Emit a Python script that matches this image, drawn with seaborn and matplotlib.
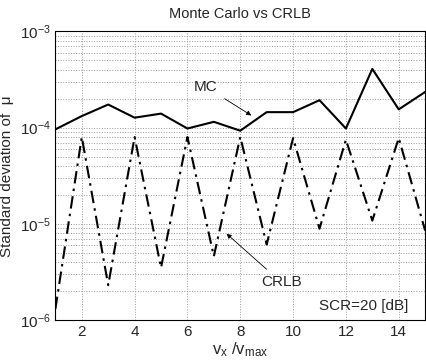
import numpy as np
import pandas as pd
import matplotlib
matplotlib.use("Agg")
import matplotlib.pyplot as plt
import seaborn as sns
from matplotlib.ticker import LogLocator, FixedLocator

sns.set_style("white")
plt.rcParams['font.family'] = ['Liberation Sans', 'DejaVu Sans']
plt.rcParams['mathtext.fontset'] = 'custom'
plt.rcParams['mathtext.rm'] = 'Liberation Sans'
plt.rcParams['mathtext.it'] = 'Liberation Sans'

x_vals = [1, 2, 3, 4, 5, 6, 7, 8, 9, 10, 11, 12, 13, 14, 15]
mc_vals = [9.6e-5, 1.32e-4, 1.74e-4, 1.27e-4, 1.40e-4, 9.8e-5, 1.15e-4, 9.3e-5,
           1.45e-4, 1.45e-4, 1.93e-4, 9.8e-5, 4.08e-4, 1.55e-4, 2.35e-4]
crlb_vals = [1.3e-6, 8.0e-5, 2.3e-6, 8.0e-5, 3.5e-6, 8.0e-5, 4.6e-6, 8.0e-5,
             6.1e-6, 7.8e-5, 8.9e-6, 7.5e-5, 1.08e-5, 7.8e-5, 8.5e-6]
x_ticks = [2, 4, 6, 8, 10, 12, 14]

df = pd.DataFrame({"x": x_vals, "MC": mc_vals, "CRLB": crlb_vals})

fig = plt.figure(figsize=(4.26, 3.62), dpi=100)
ax = fig.add_axes([0.130, 0.116, 0.868, 0.797])

sns.lineplot(data=df, x="x", y="MC", ax=ax, color="black", lw=1.5)
sns.lineplot(data=df, x="x", y="CRLB", ax=ax, color="black", lw=1.5,
             dashes=False, linestyle=(0, (6, 2.5, 1.2, 2.5)))

ax.set_yscale("log")
ax.set_xlim(1, 15)
ax.set_ylim(1e-6, 1e-3)
ax.xaxis.set_major_locator(FixedLocator(x_ticks))
ax.yaxis.set_major_locator(LogLocator(base=10, numticks=10))
ax.yaxis.set_minor_locator(LogLocator(base=10, subs=np.arange(2, 10), numticks=10))
ax.grid(True, which="major", axis="both", ls=":", lw=0.7, color="#999999")
ax.grid(True, which="minor", axis="y", ls=":", lw=0.7, color="#999999")
ax.tick_params(axis="both", which="major", direction="in", length=4, labelsize=11, width=0.8)
ax.tick_params(axis="y", which="minor", direction="in", length=2, width=0.6)
for s in ax.spines.values():
    s.set_color("black")
    s.set_linewidth(0.8)

ax.set_title("Monte Carlo vs CRLB", fontsize=10.5, pad=10)
ax.set_xlabel(r"v$_\mathregular{x}$ /v$_\mathregular{max}$", fontsize=12, labelpad=1)
ax.set_ylabel("Standard deviation of  \u03bc", fontsize=11, labelpad=4)

ax.annotate("MC", xy=(8.42, 1.34e-4), xytext=(6.25, 2.65e-4), fontsize=11,
            ha="left", va="center",
            arrowprops=dict(arrowstyle="-|>", color="black", lw=0.6, mutation_scale=7,
                            shrinkA=3, shrinkB=0))
ax.annotate("CRLB", xy=(7.48, 7.9e-6), xytext=(8.78, 2.47e-6), fontsize=11,
            ha="left", va="center",
            arrowprops=dict(arrowstyle="-|>", color="black", lw=0.6, mutation_scale=7,
                            shrinkA=3, shrinkB=0))
ax.text(10.97, 1.39e-6, "SCR=20 [dB]", fontsize=11, ha="left", va="center")

fig.savefig("out.png", dpi=100)
